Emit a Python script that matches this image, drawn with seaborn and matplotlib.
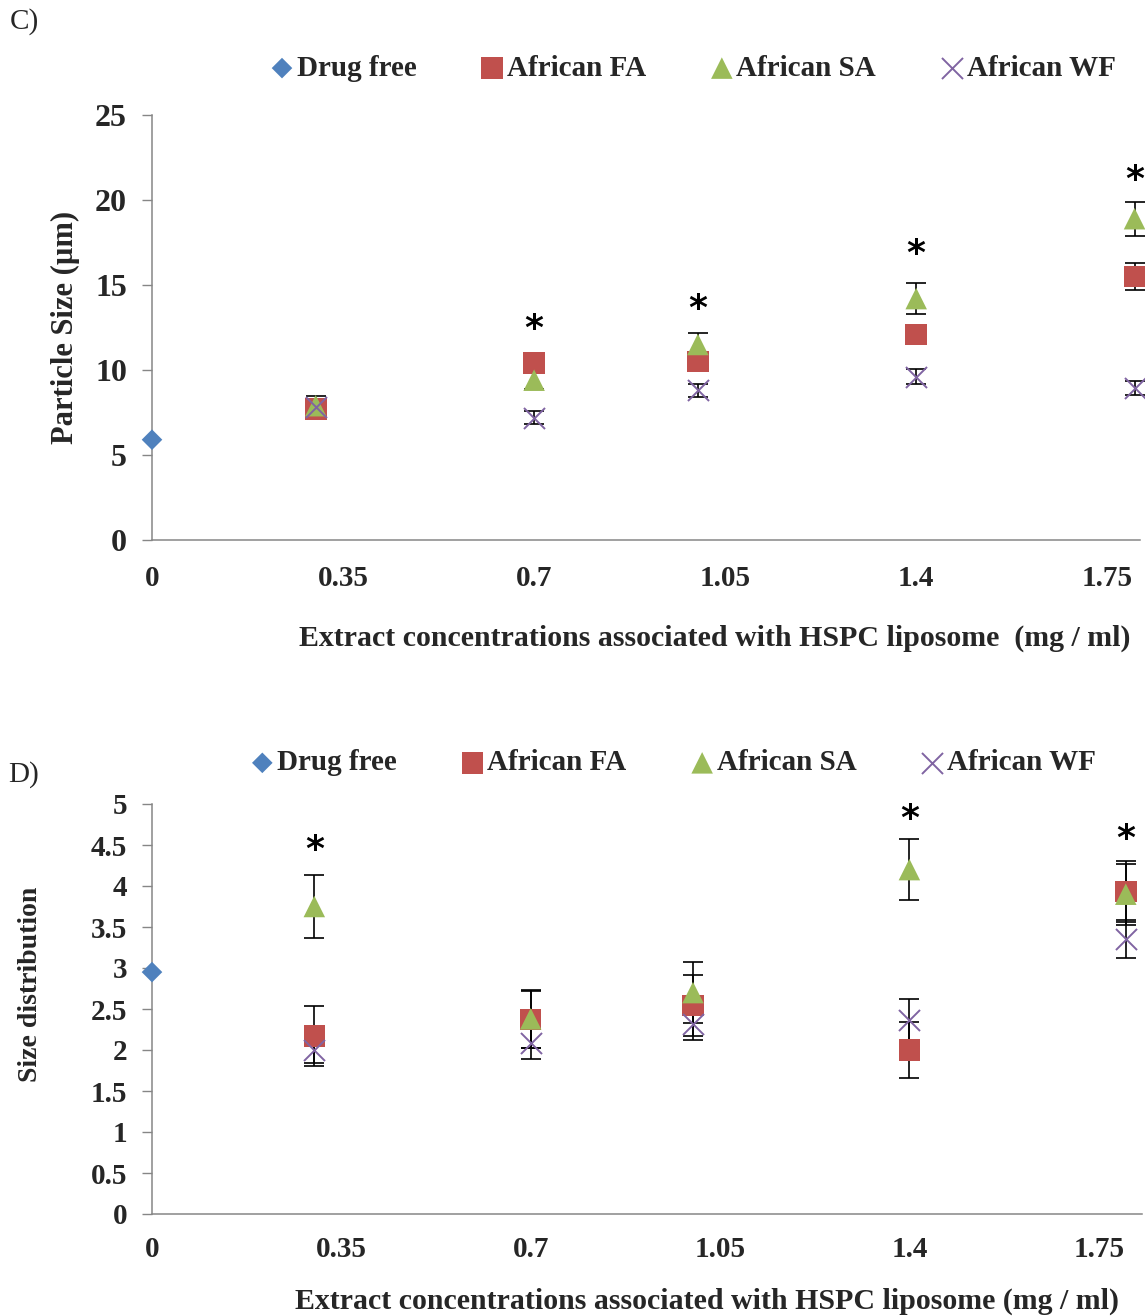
"""
Particle size (C) and size distribution (D) of HSPC liposomes
loaded with African extracts, redrawn with seaborn.
"""

import numpy as np
import pandas as pd
import matplotlib
matplotlib.use('Agg')
import matplotlib.pyplot as plt
import seaborn as sns

# ── Data ─────────────────────────────────────────────────────────────────────
conc = [0.3, 0.7, 1.0, 1.4, 1.8]          # extract concentration of the points
tick_pos    = [0, 0.35, 0.7, 1.05, 1.4, 1.75]
tick_labels = ['0', '0.35', '0.7', '1.05', '1.4', '1.75']

# panel C : particle size (µm)
c_free,  c_free_err = 5.9, 0.0
c_fa     = [7.7, 10.4, 10.5, 12.1, 15.5]
c_fa_err = [0.3, 0.5, 0.5, 0.55, 0.8]
c_sa     = [7.9, 9.4, 11.5, 14.2, 18.9]
c_sa_err = [0.6, 0.5, 0.7, 0.9, 1.0]
c_wf     = [7.8, 7.2, 8.8, 9.6, 8.95]
c_wf_err = [0.3, 0.4, 0.4, 0.45, 0.4]
c_star_x = [0.7, 1.0, 1.4, 1.8]
c_star_y = [12.4, 13.6, 16.8, 21.2]

# panel D : size distribution
d_free,  d_free_err = 2.95, 0.0
d_fa     = [2.17, 2.37, 2.54, 2.0, 3.93]
d_fa_err = [0.37, 0.35, 0.37, 0.34, 0.37]
d_sa     = [3.75, 2.38, 2.7, 4.2, 3.9]
d_sa_err = [0.38, 0.35, 0.37, 0.37, 0.37]
d_wf     = [2.0, 2.09, 2.32, 2.37, 3.35]
d_wf_err = [0.16, 0.2, 0.2, 0.25, 0.23]
d_star_x = [0.3, 1.4, 1.8]
d_star_y = [4.44, 4.82, 4.57]

SERIES  = ['Drug free', 'African FA', 'African SA', 'African WF']
COLORS  = {'Drug free': '#4F81BD', 'African FA': '#C0504D',
           'African SA': '#9BBB59', 'African WF': '#8064A2'}
MARKERS = {'Drug free': 'D', 'African FA': 's', 'African SA': '^', 'African WF': 'x'}
SIZES   = {'Drug free': 110, 'African FA': 240, 'African SA': 240, 'African WF': 230}

# ── Style ────────────────────────────────────────────────────────────────────
sns.set_theme(style='white')
plt.rcParams['font.family'] = ['Liberation Serif', 'DejaVu Serif']
plt.rcParams['font.weight'] = 'bold'
AXCOL = '#868686'


def build_frame(free, free_err, fa, fa_err, sa, sa_err, wf, wf_err):
    rows = [('Drug free', 0.0, free, free_err)]
    for name, vals, errs in [('African FA', fa, fa_err),
                             ('African SA', sa, sa_err),
                             ('African WF', wf, wf_err)]:
        rows += [(name, x, v, e) for x, v, e in zip(conc, vals, errs)]
    return pd.DataFrame(rows, columns=['series', 'conc', 'value', 'err'])


def draw_panel(ax, df, ylim, yticks, ytick_fs, ylabel, ylabel_fs, ylabel_xy,
               xlabel, xlabel_xy, xpad, leg_xy, star_x, star_y, xmax):
    # error bars first, markers on top
    bars = df[df['err'] > 0]
    ax.errorbar(bars['conc'], bars['value'], yerr=bars['err'], fmt='none',
                ecolor='black', elinewidth=1.2, capsize=7, capthick=1.2,
                zorder=2, clip_on=False)
    for name in SERIES:
        sub = df[df['series'] == name]
        kw = dict(linewidth=1.4) if MARKERS[name] == 'x' else dict(edgecolor='none')
        sns.scatterplot(data=sub, x='conc', y='value', ax=ax, marker=MARKERS[name],
                        color=COLORS[name], s=SIZES[name], label=name,
                        zorder=3, clip_on=False, **kw)
    for x, y in zip(star_x, star_y):
        ax.text(x, y, '*', ha='center', va='center', fontsize=26,
                fontweight='bold', family='DejaVu Sans', color='black')

    ax.set_xlim(0, xmax)
    ax.set_ylim(*ylim)
    ax.set_xticks(tick_pos)
    ax.set_xticklabels(tick_labels, fontsize=21, fontweight='bold')
    ax.set_yticks(yticks)
    ax.set_yticklabels([f'{t:g}' for t in yticks], fontsize=ytick_fs, fontweight='bold')
    ax.tick_params(axis='x', length=0, pad=xpad)
    ax.tick_params(axis='y', length=7, width=1, color=AXCOL, pad=11, left=True)
    for side in ['top', 'right']:
        ax.spines[side].set_visible(False)
    for side in ['left', 'bottom']:
        ax.spines[side].set_color(AXCOL)
        ax.spines[side].set_linewidth(1.1)

    ax.set_ylabel(ylabel, fontsize=ylabel_fs, fontweight='bold')
    ax.yaxis.set_label_coords(*ylabel_xy)
    ax.set_xlabel(xlabel, fontsize=21.5, fontweight='bold')
    ax.xaxis.set_label_coords(*xlabel_xy)

    ax.legend(loc='center', bbox_to_anchor=leg_xy, ncol=4, frameon=False,
              fontsize=21, handlelength=0.6, handletextpad=0.2,
              columnspacing=2.3, borderaxespad=0)


fig = plt.figure(figsize=(11.45, 13.16), dpi=100)
W, H = 1145, 1316

# ── Panel C ──────────────────────────────────────────────────────────────────
ax_c = fig.add_axes([152 / W, 1 - 540 / H, 988 / W, 425 / H])
df_c = build_frame(c_free, c_free_err, c_fa, c_fa_err, c_sa, c_sa_err, c_wf, c_wf_err)
draw_panel(ax_c, df_c, (0, 25), [0, 5, 10, 15, 20, 25], 23,
           'Particle Size (µm)', 22, (-0.073, 0.50),
           'Extract concentrations associated with HSPC liposome  (mg / ml)',
           (0.57, -0.20), 18, (0.549, 1.11), c_star_x, c_star_y, 1.81)
fig.text(10 / W, 1 - 22 / H, 'C)', fontsize=21, fontweight='normal', va='center')

# ── Panel D ──────────────────────────────────────────────────────────────────
ax_d = fig.add_axes([152 / W, 1 - 1214 / H, 990 / W, 410 / H])
df_d = build_frame(d_free, d_free_err, d_fa, d_fa_err, d_sa, d_sa_err, d_wf, d_wf_err)
draw_panel(ax_d, df_d, (0, 5), list(np.arange(0, 5.01, 0.5)), 21,
           'Size distribution', 20, (-0.110, 0.561),
           'Extract concentrations associated with HSPC liposome (mg / ml)',
           (0.561, -0.18), 16, (0.528, 1.10), d_star_x, d_star_y, 1.83)
fig.text(8 / W, 1 - 775 / H, 'D)', fontsize=21, fontweight='normal', va='center')

fig.savefig('out.png', dpi=100, facecolor='white')
plt.close(fig)
